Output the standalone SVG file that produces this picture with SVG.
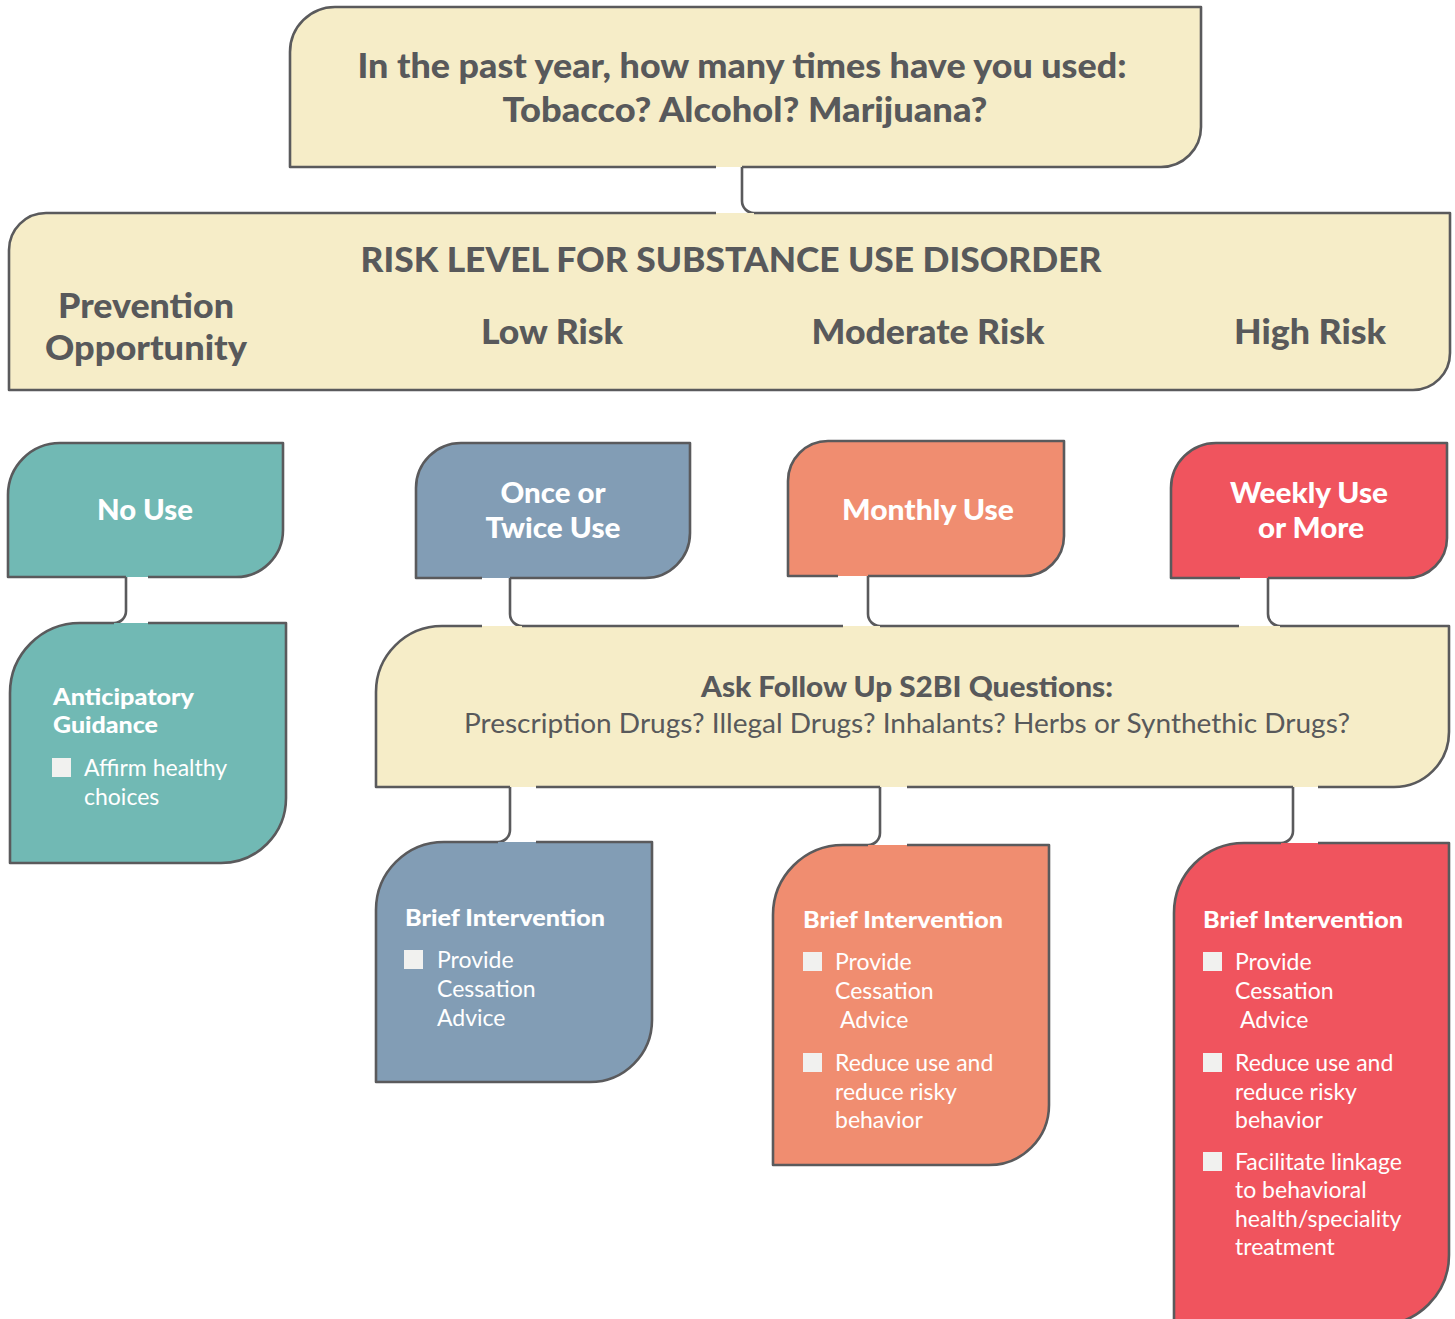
<svg xmlns="http://www.w3.org/2000/svg" width="1455" height="1319" viewBox="0 0 1455 1319">
<style>
.ol{fill:none;stroke:#5a5a5c;stroke-width:2.6;stroke-linecap:butt;stroke-linejoin:round}
.beige{fill:#f6edc8}
.teal{fill:#71b9b4}
.blue{fill:#829db5}
.orange{fill:#f08d70}
.red{fill:#f0545e}
.t{font-family:Lato,"Noto Sans",sans-serif}
.dk{fill:#58595b;font-weight:900}
.wb{fill:#ffffff;font-weight:900}
.wr{fill:#ffffff;font-weight:400;font-size:23px}
.ask{fill:#58595b;font-weight:400;font-size:27px}
.cb{fill:#f1f1ef}
</style>
<rect width="1455" height="1319" fill="#ffffff"/>
<g id="connectors" class="ol">
<path d="M742,167 V201 A12,12 0 0 0 754,213"/>
<path d="M126,577 V611 A12,12 0 0 1 114,623"/>
<path d="M510,578 V614 A12,12 0 0 0 522,626"/>
<path d="M868,576 V614 A12,12 0 0 0 880,626"/>
<path d="M1268,578 V614 A12,12 0 0 0 1280,626"/>
<path d="M510,787 V830 A12,12 0 0 1 498,842"/>
<path d="M880,787 V833 A12,12 0 0 1 868,845"/>
<path d="M1293,787 V831 A12,12 0 0 1 1281,843"/>
</g>
<g id="question">
<path class="beige" d="M290,167 V52 A45,45 0 0 1 335,7 H1201 V127 A40,40 0 0 1 1161,167 Z"/>
<path class="ol" d="M742,167 H1161 A40,40 0 0 0 1201,127 V7 H335 A45,45 0 0 0 290,52 V167 H716"/>
<text class="t dk" font-size="34" text-anchor="middle" x="742" y="78" textLength="769" lengthAdjust="spacingAndGlyphs">In the past year, how many times have you used:</text>
<text class="t dk" font-size="34" text-anchor="middle" x="745" y="122" textLength="485" lengthAdjust="spacingAndGlyphs">Tobacco? Alcohol? Marijuana?</text>
</g>
<g id="risk">
<path class="beige" d="M9,390 V250 A37,37 0 0 1 46,213 H1450 V353 A37,37 0 0 1 1413,390 Z"/>
<path class="ol" d="M716,213 H46 A37,37 0 0 0 9,250 V390 H1413 A37,37 0 0 0 1450,353 V213 H754"/>
<text class="t dk" font-size="35" text-anchor="middle" x="731" y="272" textLength="741" lengthAdjust="spacingAndGlyphs">RISK LEVEL FOR SUBSTANCE USE DISORDER</text>
<text class="t dk" font-size="34" text-anchor="middle" x="146" y="318" textLength="176" lengthAdjust="spacingAndGlyphs">Prevention</text>
<text class="t dk" font-size="34" text-anchor="middle" x="146" y="360" textLength="202" lengthAdjust="spacingAndGlyphs">Opportunity</text>
<text class="t dk" font-size="34" text-anchor="middle" x="552" y="344" textLength="142" lengthAdjust="spacingAndGlyphs">Low Risk</text>
<text class="t dk" font-size="34" text-anchor="middle" x="928" y="344" textLength="233" lengthAdjust="spacingAndGlyphs">Moderate Risk</text>
<text class="t dk" font-size="34" text-anchor="middle" x="1310" y="344" textLength="152" lengthAdjust="spacingAndGlyphs">High Risk</text>
</g>
<g id="no-use">
<path class="teal" d="M8,577 V495 A52,52 0 0 1 60,443 H283 V530 A47,47 0 0 1 236,577 Z"/>
<path class="ol" d="M148,577 H236 A47,47 0 0 0 283,530 V443 H60 A52,52 0 0 0 8,495 V577 H126"/>
<text class="t wb" font-size="28" text-anchor="middle" x="145" y="520" textLength="96" lengthAdjust="spacingAndGlyphs">No Use</text>
</g>
<g id="once-twice">
<path class="blue" d="M416,578 V488 A45,45 0 0 1 461,443 H690 V533 A45,45 0 0 1 645,578 Z"/>
<path class="ol" d="M510,578 H645 A45,45 0 0 0 690,533 V443 H461 A45,45 0 0 0 416,488 V578 H482"/>
<text class="t wb" font-size="28" text-anchor="middle" x="553" y="503" textLength="105" lengthAdjust="spacingAndGlyphs">Once or</text>
<text class="t wb" font-size="28" text-anchor="middle" x="553" y="538" textLength="135" lengthAdjust="spacingAndGlyphs">Twice Use</text>
</g>
<g id="monthly">
<path class="orange" d="M788,576 V481 A40,40 0 0 1 828,441 H1064 V536 A40,40 0 0 1 1024,576 Z"/>
<path class="ol" d="M868,576 H1024 A40,40 0 0 0 1064,536 V441 H828 A40,40 0 0 0 788,481 V576 H838"/>
<text class="t wb" font-size="28" text-anchor="middle" x="928" y="520" textLength="172" lengthAdjust="spacingAndGlyphs">Monthly Use</text>
</g>
<g id="weekly">
<path class="red" d="M1171,578 V488 A45,45 0 0 1 1216,443 H1447 V538 A40,40 0 0 1 1407,578 Z"/>
<path class="ol" d="M1268,578 H1407 A40,40 0 0 0 1447,538 V443 H1216 A45,45 0 0 0 1171,488 V578 H1240"/>
<text class="t wb" font-size="28" text-anchor="middle" x="1309" y="503" textLength="158" lengthAdjust="spacingAndGlyphs">Weekly Use</text>
<text class="t wb" font-size="28" text-anchor="middle" x="1311" y="538" textLength="106" lengthAdjust="spacingAndGlyphs">or More</text>
</g>
<g id="anticipatory">
<path class="teal" d="M10,863 V693 A70,70 0 0 1 80,623 H286 V798 A65,65 0 0 1 221,863 Z"/>
<path class="ol" d="M114,623 H80 A70,70 0 0 0 10,693 V863 H221 A65,65 0 0 0 286,798 V623 H148"/>
<text class="t wb" font-size="23" x="53" y="705" textLength="141" lengthAdjust="spacingAndGlyphs">Anticipatory</text>
<text class="t wb" font-size="23" x="53" y="733" textLength="105" lengthAdjust="spacingAndGlyphs">Guidance</text>
<rect class="cb" x="52" y="758" width="19" height="19"/>
<text class="t wr" x="84" y="776">Affirm healthy</text>
<text class="t wr" x="84" y="805">choices</text>
</g>
<g id="ask">
<path class="beige" d="M376,787 V692 A66,66 0 0 1 442,626 H1449 V732 A55,55 0 0 1 1394,787 Z"/>
<path class="ol" d="M482,626 H442 A66,66 0 0 0 376,692 V787 H510 M536,787 H880 M907,787 H1293 M1318,787 H1394 A55,55 0 0 0 1449,732 V626 H1280 M1239,626 H880 M843,626 H522"/>
<text class="t dk" font-size="28" text-anchor="middle" x="907" y="697" textLength="412" lengthAdjust="spacingAndGlyphs">Ask Follow Up S2BI Questions:</text>
<text class="t ask" text-anchor="middle" x="907" y="733" textLength="886" lengthAdjust="spacingAndGlyphs">Prescription Drugs? Illegal Drugs? Inhalants? Herbs or Synthethic Drugs?</text>
</g>
<g id="brief-low">
<path class="blue" d="M376,1082 V910 A68,68 0 0 1 444,842 H652 V1020 A62,62 0 0 1 590,1082 Z"/>
<path class="ol" d="M498,842 H444 A68,68 0 0 0 376,910 V1082 H590 A62,62 0 0 0 652,1020 V842 H536"/>
<text class="t wb" font-size="23" x="405" y="926" textLength="200" lengthAdjust="spacingAndGlyphs">Brief Intervention</text>
<rect class="cb" x="404" y="950" width="19" height="19"/>
<text class="t wr" x="437" y="968">Provide</text>
<text class="t wr" x="437" y="997">Cessation</text>
<text class="t wr" x="437" y="1026">Advice</text>
</g>
<g id="brief-moderate">
<path class="orange" d="M773,1165 V915 A70,70 0 0 1 843,845 H1049 V1105 A60,60 0 0 1 989,1165 Z"/>
<path class="ol" d="M868,845 H843 A70,70 0 0 0 773,915 V1165 H989 A60,60 0 0 0 1049,1105 V845 H907"/>
<text class="t wb" font-size="23" x="803" y="928" textLength="200" lengthAdjust="spacingAndGlyphs">Brief Intervention</text>
<rect class="cb" x="803" y="952" width="19" height="19"/>
<text class="t wr" x="835" y="970">Provide</text>
<text class="t wr" x="835" y="999">Cessation</text>
<text class="t wr" x="840" y="1028">Advice</text>
<rect class="cb" x="803" y="1053" width="19" height="19"/>
<text class="t wr" x="835" y="1071">Reduce use and</text>
<text class="t wr" x="835" y="1100">reduce risky</text>
<text class="t wr" x="835" y="1128">behavior</text>
</g>
<g id="brief-high">
<path class="red" d="M1174,1325 V913 A70,70 0 0 1 1244,843 H1449 V1255 A70,70 0 0 1 1379,1325 Z"/>
<path class="ol" d="M1281,843 H1244 A70,70 0 0 0 1174,913 V1325 H1379 A70,70 0 0 0 1449,1255 V843 H1318"/>
<text class="t wb" font-size="23" x="1203" y="928" textLength="200" lengthAdjust="spacingAndGlyphs">Brief Intervention</text>
<rect class="cb" x="1203" y="952" width="19" height="19"/>
<text class="t wr" x="1235" y="970">Provide</text>
<text class="t wr" x="1235" y="999">Cessation</text>
<text class="t wr" x="1240" y="1028">Advice</text>
<rect class="cb" x="1203" y="1053" width="19" height="19"/>
<text class="t wr" x="1235" y="1071">Reduce use and</text>
<text class="t wr" x="1235" y="1100">reduce risky</text>
<text class="t wr" x="1235" y="1128">behavior</text>
<rect class="cb" x="1203" y="1152" width="19" height="19"/>
<text class="t wr" x="1235" y="1170">Facilitate linkage</text>
<text class="t wr" x="1235" y="1198">to behavioral</text>
<text class="t wr" x="1235" y="1227">health/speciality</text>
<text class="t wr" x="1235" y="1255">treatment</text>
</g>
</svg>
